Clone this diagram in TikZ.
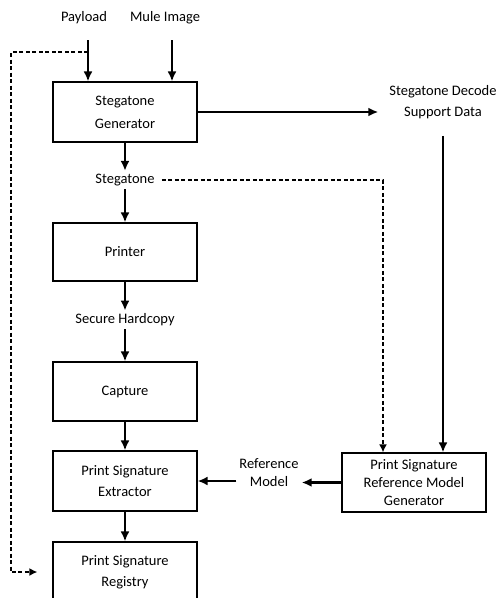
\documentclass[tikz,border=0pt]{standalone}
\usepackage{fontspec}
\setmainfont{Carlito}
\usetikzlibrary{arrows.meta}
\begin{document}
\begin{tikzpicture}[x=1pt, y=-1pt, font=\fontsize{14.5}{18}\selectfont,
  box/.style={draw, line width=1.2pt, minimum width=144pt, align=center, inner sep=0pt},
  lbl/.style={align=center, inner sep=3pt},
  arr/.style={line width=2.3pt, -{Latex[length=10pt,width=9pt]}},
  dsh/.style={line width=2.3pt, dash pattern=on 4pt off 2.5pt, -{Latex[length=8pt,width=8pt]}}]
\clip (0,0) rectangle (503,598);
\node[box, minimum height=60pt] (gen) at (125,112) {Stegatone\\[5pt]Generator};
\node[box, minimum height=58pt] (prt) at (125,252) {Printer};
\node[box, minimum height=59pt] (cap) at (125,391.5) {Capture};
\node[box, minimum height=60pt] (ext) at (125,481) {Print Signature\\[3pt]Extractor};
\node[box, minimum height=60pt] (reg) at (125,572) {Print Signature\\[3pt]Registry};
\node[box, minimum height=59pt] (rmg) at (414,482.5) {Print Signature\\Reference Model\\Generator};
\node[lbl] (pay) at (84,18) {Payload};
\node[lbl] (mule) at (165,18) {Mule Image};
\node[lbl] (steg) at (125,180) {Stegatone};
\node[lbl] (hard) at (125,320) {Secure Hardcopy};
\node[lbl] (sdsd) at (443,102) {Stegatone Decode\\[3pt]Support Data};
\node[lbl] (rmod) at (269,473) {Reference\\Model};
\coordinate (payin) at (88,40);
\coordinate (mulein) at (172,40);
\coordinate (tap) at (88,52);
\draw[arr] (payin) -- (payin |- gen.north);
\draw[arr] (mulein) -- (mulein |- gen.north);
\draw[arr] (gen.south) -- (steg.north);
\draw[arr] (steg.south) -- (prt.north);
\draw[arr] (prt.south) -- (hard.north);
\draw[arr] (hard.south) -- (cap.north);
\draw[arr] (cap.south) -- (ext.north);
\draw[arr] (ext.south) -- (reg.north);
\draw[arr, shorten >=8pt] (gen.east) -- (gen.east -| sdsd.west);
\draw[arr, shorten <=14pt] (sdsd.south) -- (sdsd.south |- rmg.north);
\draw[arr] (rmg.west) -- (rmg.west -| rmod.east);
\draw[arr] (rmod.west |- ext.east) -- (ext.east);
\draw[dsh, shorten <=4pt] (steg.east) -| ([xshift=-31pt]rmg.north);
\draw[dsh, shorten >=15pt] (tap) -- ++(-77,0) |- (reg.west);
\end{tikzpicture}
\end{document}
